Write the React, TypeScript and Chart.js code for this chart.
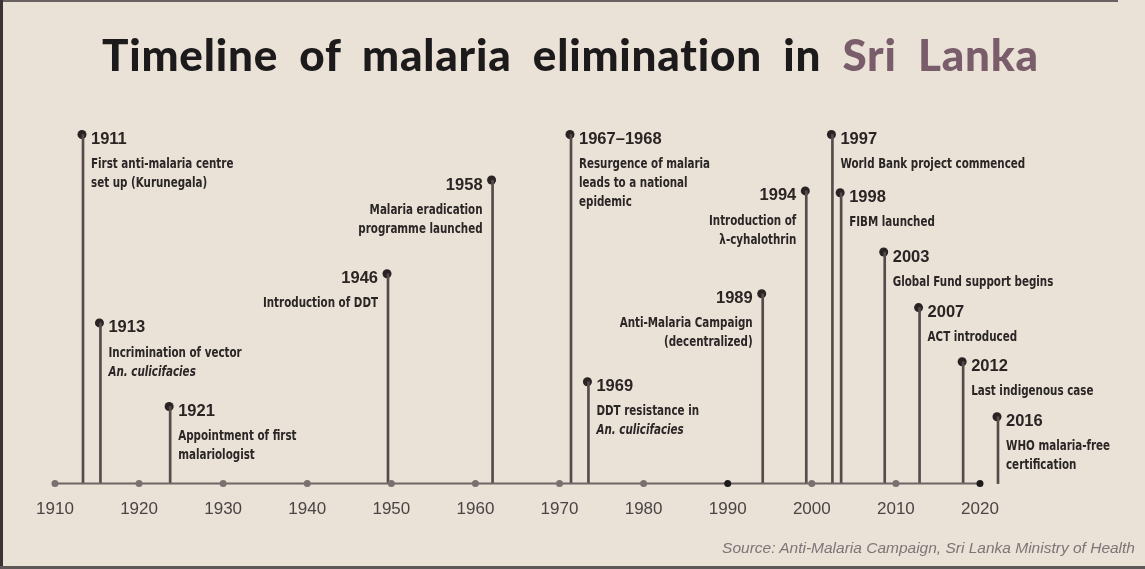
import React, { useEffect, useRef } from "react";
import { Chart, registerables } from "chart.js";

Chart.register(...registerables);

// ---- data ----
const eventYears = [1911, 1913, 1921, 1946, 1958, 1967, 1969, 1989, 1994, 1997, 1998, 2003, 2007, 2012, 2016];
const eventYearLabels = [
  "1911", "1913", "1921", "1946", "1958", "1967–1968", "1969", "1989", "1994",
  "1997", "1998", "2003", "2007", "2012", "2016",
];
// stem heights (relative units, 0 = time axis)
const eventHeights = [96, 44.2, 21.2, 57.7, 83.5, 96, 28, 52.2, 80.5, 96, 80, 63.7, 48.4, 33.5, 18.4];
const eventTexts: string[][] = [
  ["First anti-malaria centre", "set up (Kurunegala)"],
  ["Incrimination of vector", "An. culicifacies"],
  ["Appointment of first", "malariologist"],
  ["Introduction of DDT"],
  ["Malaria eradication", "programme launched"],
  ["Resurgence of malaria", "leads to a national", "epidemic"],
  ["DDT resistance in", "An. culicifacies"],
  ["Anti-Malaria Campaign", "(decentralized)"],
  ["Introduction of", "λ-cyhalothrin"],
  ["World Bank project commenced"],
  ["FIBM launched"],
  ["Global Fund support begins"],
  ["ACT introduced"],
  ["Last indigenous case"],
  ["WHO malaria-free", "certification"],
];
const labelOnLeft = [false, false, false, true, true, false, false, true, true, false, false, false, false, false, false];
const axisYears = [1910, 1920, 1930, 1940, 1950, 1960, 1970, 1980, 1990, 2000, 2010, 2020];

const titleMain = "Timeline of malaria elimination in ";
const titleAccent = "Sri Lanka";
const sourceNote = "Source: Anti-Malaria Campaign, Sri Lanka Ministry of Health";

const YEAR_FONT = "bold 16.5px 'Liberation Sans', Arial, sans-serif";
const DESC_FONT = "bold 14px 'DejaVu Sans Condensed', sans-serif";
const DESC_ITALIC = "italic bold 14px 'DejaVu Sans Condensed', sans-serif";
const DESC_SQUEEZE = 0.82;

const labelPlugin = {
  id: "eventLabels",
  afterDatasetsDraw(chart: any) {
    const ctx = chart.ctx;
    const xs = chart.scales.x;
    const ys = chart.scales.y;
    ctx.save();
    ctx.textBaseline = "middle";
    eventYears.forEach((yr, i) => {
      const px = xs.getPixelForValue(yr);
      const py = ys.getPixelForValue(eventHeights[i]);
      const left = labelOnLeft[i];
      const tx = left ? px - 9 : px + 9;
      ctx.textAlign = left ? "right" : "left";
      ctx.fillStyle = "#2a2424";
      ctx.font = YEAR_FONT;
      ctx.fillText(eventYearLabels[i], tx, py + 5);
      eventTexts[i].forEach((line, j) => {
        ctx.save();
        ctx.font = line.startsWith("An. ") ? DESC_ITALIC : DESC_FONT;
        ctx.fillStyle = "#2b2626";
        ctx.scale(DESC_SQUEEZE, 1);
        ctx.fillText(line, tx / DESC_SQUEEZE, py + 30 + j * 19);
        ctx.restore();
      });
    });
    ctx.restore();
  },
};

export default function App() {
  const ref = useRef<HTMLCanvasElement | null>(null);

  useEffect(() => {
    if (!ref.current) return;
    const chart = new Chart(ref.current, {
      type: "bar",
      data: {
        datasets: [
          {
            type: "line",
            label: "axis",
            xAxisID: "xt",
            yAxisID: "y",
            data: axisYears.map((y) => ({ x: y, y: 0 })),
            borderColor: "#6e6664",
            borderWidth: 2,
            pointRadius: 3.5,
            pointBackgroundColor: axisYears.map((y) => (y === 1990 || y === 2020 ? "#1e1b1b" : "#7a716f")),
            pointBorderWidth: 0,
            clip: false,
          } as any,
          {
            type: "bar",
            label: "stems",
            xAxisID: "x",
            yAxisID: "y",
            data: eventYears.map((y, i) => ({ x: y, y: eventHeights[i] })),
            backgroundColor: "#554b4b",
            barThickness: 2,
            clip: false,
          } as any,
          {
            type: "scatter",
            label: "events",
            xAxisID: "x",
            yAxisID: "y",
            data: eventYears.map((y, i) => ({ x: y, y: eventHeights[i] })),
            pointRadius: 4.5,
            pointBackgroundColor: "#2a2323",
            pointBorderWidth: 0,
            clip: false,
          } as any,
        ],
      },
      options: {
        animation: false,
        responsive: false,
        devicePixelRatio: 1,
        layout: { padding: { left: 40, right: 45, top: 120, bottom: 33 } },
        plugins: { legend: { display: false }, tooltip: { enabled: false }, title: { display: false } },
        scales: {
          x: { type: "linear", display: false, offset: false, min: 1906.18, max: 2027.82 },
          xt: {
            type: "linear",
            position: "bottom",
            offset: false,
            min: 1908.22,
            max: 2034.27,
            afterBuildTicks: (scale: any) => {
              scale.ticks = axisYears.map((v) => ({ value: v }));
            },
            afterFit: (scale: any) => {
              scale.paddingLeft = 0;
              scale.paddingRight = 0;
            },
            grid: { display: false, drawTicks: false },
            border: { display: false },
            ticks: {
              color: "#4a4444",
              padding: 16,
              maxRotation: 0,
              autoSkip: false,
              font: { family: "'Liberation Sans', Arial, sans-serif", size: 17 },
              callback: (v: any) => String(v),
            },
          },
          y: { type: "linear", display: false, min: 0, max: 100 },
        },
      },
      plugins: [labelPlugin],
    });
    return () => chart.destroy();
  }, []);

  return (
    <div
      style={{
        position: "fixed",
        left: 0,
        top: 0,
        width: 1145,
        height: 569,
        background: "#eae1d7",
        overflow: "hidden",
      }}
    >
      <canvas ref={ref} width={1145} height={569} style={{ position: "absolute", left: 0, top: 0 }} />
      <div
        style={{
          position: "absolute",
          left: 102,
          top: 29,
          fontFamily: "Lato, 'Open Sans', sans-serif",
          fontWeight: 900,
          fontSize: 44,
          letterSpacing: 0.8,
          wordSpacing: 10,
          fontVariantLigatures: "none",
          color: "#1c1a1a",
          whiteSpace: "nowrap",
          lineHeight: "50px",
        }}
      >
        {titleMain}
        <span style={{ color: "#7a5d6a" }}>{titleAccent}</span>
      </div>
      <div
        style={{
          position: "absolute",
          right: 10,
          top: 539,
          fontFamily: "'Liberation Sans', Arial, sans-serif",
          fontStyle: "italic",
          fontSize: 15.5,
          color: "#7d7577",
          whiteSpace: "nowrap",
        }}
      >
        {sourceNote}
      </div>
      <div style={{ position: "absolute", left: 0, top: 0, width: 1118, height: 2, background: "#6a6262" }} />
      <div style={{ position: "absolute", left: 0, top: 0, width: 3, height: 569, background: "#3a3434" }} />
      <div style={{ position: "absolute", left: 0, top: 566, width: 1145, height: 3, background: "#5e5858" }} />
    </div>
  );
}
